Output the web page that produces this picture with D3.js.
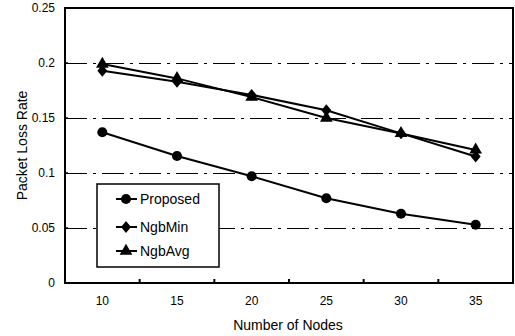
<!DOCTYPE html>
<html>
<head>
<meta charset="utf-8">
<script src="https://cdn.jsdelivr.net/npm/d3@7"></script>
<style>
  body { margin: 0; background: #fff; }
  text { font-family: "Liberation Sans", Arial, sans-serif; fill: #000; }
</style>
</head>
<body>
<div id="chart"></div>
<script>
// chart data
var nodes = [10, 15, 20, 25, 30, 35];
var proposed = [0.137, 0.1155, 0.097, 0.077, 0.063, 0.053];
var ngbMin = [0.193, 0.183, 0.171, 0.157, 0.136, 0.115];
var ngbAvg = [0.199, 0.186, 0.169, 0.150, 0.136, 0.121];
var yTicks = [0, 0.05, 0.1, 0.15, 0.2, 0.25];

var width = 515, height = 336;
var margin = {top: 8, right: 2, bottom: 53, left: 65};
var w = width - margin.left - margin.right,
    h = height - margin.top - margin.bottom;

var svg = d3.select("#chart").append("svg")
  .attr("width", width)
  .attr("height", height);

var g = svg.append("g")
  .attr("transform", "translate(" + margin.left + "," + margin.top + ")");

var x = d3.scaleBand().domain(nodes).range([0, w]);
var y = d3.scaleLinear().domain([0, 0.25]).range([h, 0]);

// wider diamond than d3's built-in one
var wideDiamond = {
  draw: function(context, size) {
    var a = Math.sqrt(size) * 0.62, b = a * 1.2;
    context.moveTo(0, -b);
    context.lineTo(a, 0);
    context.lineTo(0, b);
    context.lineTo(-a, 0);
    context.closePath();
  }
};

// dash-dot grid lines
g.selectAll("line.grid")
  .data(yTicks.filter(function(d) { return d > 0 && d < 0.25; }))
  .enter().append("line")
  .attr("class", "grid")
  .attr("x1", 0).attr("x2", w)
  .attr("y1", function(d) { return Math.round(y(d)) + 0.5; })
  .attr("y2", function(d) { return Math.round(y(d)) + 0.5; })
  .attr("stroke", "#000")
  .attr("stroke-width", 1.2)
  .attr("stroke-dasharray", "22,6,3,6");

// y axis labels
var yAxis = d3.axisLeft(y).tickValues(yTicks).tickSize(0).tickPadding(10)
  .tickFormat(function(d) { return d === 0 ? "0" : String(d); });
g.append("g").call(yAxis)
  .call(function(s) { s.select(".domain").remove(); })
  .selectAll("text")
  .style("font-size", "12px");

// small inward ticks on the left edge
g.selectAll("line.ytick")
  .data(yTicks.slice(1, -1))
  .enter().append("line")
  .attr("x1", 0).attr("x2", 3)
  .attr("y1", function(d) { return y(d); })
  .attr("y2", function(d) { return y(d); })
  .attr("stroke", "#000").attr("stroke-width", 1.5);

// x axis labels
var xAxis = d3.axisBottom(x).tickSize(0).tickPadding(13);
g.append("g").attr("transform", "translate(0," + h + ")")
  .call(xAxis)
  .call(function(s) { s.select(".domain").remove(); })
  .selectAll("text")
  .style("font-size", "12px");

// inward ticks between categories
g.selectAll("line.xtick")
  .data(nodes.slice(1))
  .enter().append("line")
  .attr("x1", function(d) { return x(d); })
  .attr("x2", function(d) { return x(d); })
  .attr("y1", h).attr("y2", h - 4)
  .attr("stroke", "#000").attr("stroke-width", 2);

// frame
g.append("rect")
  .attr("width", w).attr("height", h)
  .attr("fill", "none").attr("stroke", "#000").attr("stroke-width", 2);

var cx = function(d, i) { return x(nodes[i]) + x.bandwidth() / 2; };

var line = d3.line()
  .x(cx)
  .y(function(d) { return y(d); });

var series = [
  {name: "Proposed", values: proposed, shape: d3.symbolCircle, size: 80},
  {name: "NgbMin", values: ngbMin, shape: wideDiamond, size: 64},
  {name: "NgbAvg", values: ngbAvg, shape: d3.symbolTriangle, size: 70}
];

series.forEach(function(s) {
  g.append("path")
    .datum(s.values)
    .attr("d", line)
    .attr("fill", "none")
    .attr("stroke", "#000")
    .attr("stroke-width", 2);
  g.selectAll(null)
    .data(s.values)
    .enter().append("path")
    .attr("d", d3.symbol().type(s.shape).size(s.size))
    .attr("transform", function(d, i) {
      return "translate(" + cx(d, i) + "," + y(d) + ")";
    })
    .attr("fill", "#000");
});

// legend
var legend = svg.append("g").attr("transform", "translate(97,184)");
legend.append("rect")
  .attr("width", 122).attr("height", 83)
  .attr("fill", "#fff").attr("stroke", "#000").attr("stroke-width", 1.5);

var item = legend.selectAll("g.item")
  .data(series)
  .enter().append("g")
  .attr("transform", function(d, i) { return "translate(0," + [15, 43, 67][i] + ")"; });

item.append("line")
  .attr("x1", 19).attr("x2", 40)
  .attr("stroke", "#000").attr("stroke-width", 2);
item.append("path")
  .attr("d", function(d) { return d3.symbol().type(d.shape).size(d.size)(); })
  .attr("transform", "translate(29,0)")
  .attr("fill", "#000");
item.append("text")
  .attr("x", 43).attr("dy", "0.36em")
  .style("font-size", "14px")
  .text(function(d) { return d.name; });

// axis titles
svg.append("text")
  .attr("transform", "translate(27," + (margin.top + h / 2) + ") rotate(-90)")
  .attr("text-anchor", "middle")
  .style("font-size", "14px")
  .text("Packet Loss Rate");

svg.append("text")
  .attr("x", margin.left + w / 2 - 1).attr("y", 330)
  .attr("text-anchor", "middle")
  .style("font-size", "14px")
  .text("Number of Nodes");
</script>
</body>
</html>
